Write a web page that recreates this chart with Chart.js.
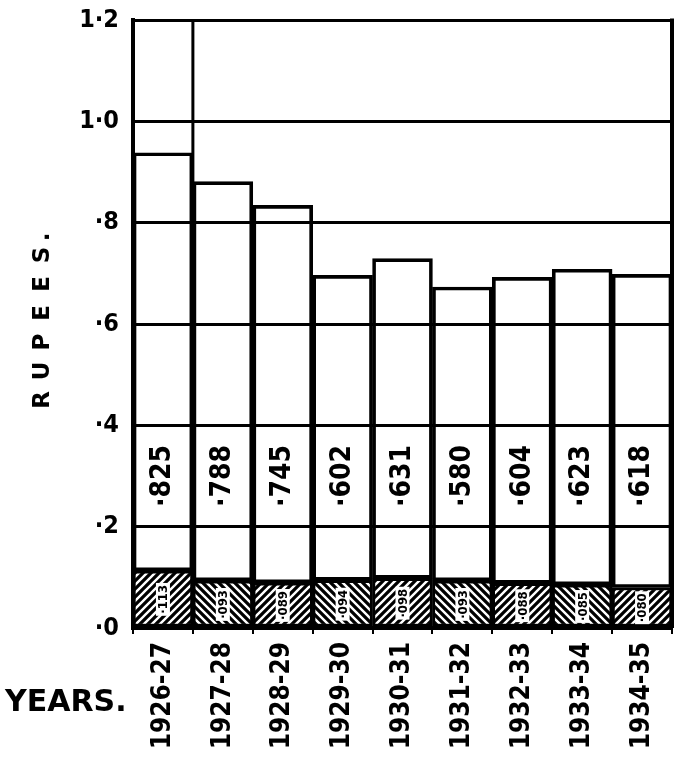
<!DOCTYPE html>
<html>
<head>
<meta charset="UTF-8" />
<style>
  html, body { margin: 0; padding: 0; background: #fff; }
  #wrap { width: 686px; height: 757px; }
</style>
</head>
<body>
<div id="wrap"><canvas id="c" width="686" height="757"></canvas></div>
<script src="https://cdn.jsdelivr.net/npm/chart.js"></script>
<script>
  // data
  const years = ['1926-27', '1927-28', '1928-29', '1929-30', '1930-31', '1931-32', '1932-33', '1933-34', '1934-35'];
  const lowerValues = [0.113, 0.093, 0.089, 0.094, 0.098, 0.093, 0.088, 0.085, 0.080];
  const upperValues = [0.825, 0.788, 0.745, 0.602, 0.631, 0.580, 0.604, 0.623, 0.618];
  const lowerLabels = ['·113', '·093', '·089', '·094', '·098', '·093', '·088', '·085', '·080'];
  const upperLabels = ['·825', '·788', '·745', '·602', '·631', '·580', '·604', '·623', '·618'];
  const yTickLabels = ['·0', '·2', '·4', '·6', '·8', '1·0', '1·2'];

  const FONT = '"DejaVu Sans Condensed", "DejaVu Sans", sans-serif';
  const WIDE = '"DejaVu Sans", sans-serif';

  // hatch tile: black with white diagonal strokes
  function makeHatch(flip) {
    const t = document.createElement('canvas');
    t.width = 8; t.height = 8;
    const g = t.getContext('2d');
    g.fillStyle = '#000';
    g.fillRect(0, 0, 8, 8);
    g.strokeStyle = '#fff';
    g.lineWidth = 2.4;
    g.beginPath();
    if (!flip) {
      g.moveTo(0, 8); g.lineTo(8, 0);
      g.moveTo(-2, 2); g.lineTo(2, -2);
      g.moveTo(6, 10); g.lineTo(10, 6);
    } else {
      g.moveTo(0, 0); g.lineTo(8, 8);
      g.moveTo(-2, 6); g.lineTo(2, 10);
      g.moveTo(6, -2); g.lineTo(10, 2);
    }
    g.stroke();
    return g.createPattern(t, 'repeat');
  }
  const hatchA = makeHatch(false);
  const hatchB = makeHatch(true);

  const extras = {
    id: 'extras',
    afterDatasetsDraw(chart) {
      const ctx = chart.ctx;
      const x = chart.scales.x, y = chart.scales.y;
      const area = chart.chartArea;
      ctx.save();
      ctx.strokeStyle = '#000';
      // right frame
      ctx.lineWidth = 4;
      ctx.beginPath();
      ctx.moveTo(area.right, area.top - 1.5);
      ctx.lineTo(area.right, area.bottom);
      ctx.stroke();
      // divider after first column runs up to the top
      const xd = (x.getPixelForValue(0) + x.getPixelForValue(1)) / 2;
      ctx.lineWidth = 3;
      ctx.beginPath();
      ctx.moveTo(xd, area.top);
      ctx.lineTo(xd, area.bottom);
      ctx.stroke();

      // upper values, rotated, between .2 and .4
      const yMid = y.getPixelForValue(0.3);
      ctx.fillStyle = '#000';
      ctx.textAlign = 'center';
      ctx.textBaseline = 'middle';
      years.forEach((yr, i) => {
        const cx = x.getPixelForValue(i);
        ctx.save();
        ctx.translate(cx, yMid);
        ctx.rotate(-Math.PI / 2);
        ctx.font = 'bold 28px ' + FONT;
        ctx.fillText(upperLabels[i], 0, 0);
        ctx.restore();

        // lower values inside the hatch
        const yl = y.getPixelForValue(lowerValues[i] / 2);
        ctx.save();
        ctx.translate(cx, yl);
        ctx.rotate(-Math.PI / 2);
        ctx.font = 'bold 13px ' + FONT;
        const w = ctx.measureText(lowerLabels[i]).width;
        ctx.fillStyle = '#fff';
        ctx.fillRect(-w / 2 - 2, -7, w + 4, 14);
        ctx.fillStyle = '#000';
        ctx.fillText(lowerLabels[i], 0, 1);
        ctx.restore();
      });

      // axis words
      ctx.font = 'bold 23px ' + WIDE;
      const word = 'RUPEES.';
      let yy = 400;
      for (const ch of word) {
        ctx.save();
        ctx.translate(43, yy);
        ctx.rotate(-Math.PI / 2);
        ctx.fillText(ch, 0, 0);
        ctx.restore();
        yy -= ch === 'S' ? 18 : 29;
      }
      ctx.font = 'bold 30px ' + WIDE;
      ctx.textAlign = 'left';
      ctx.fillText('YEARS.', 5, 703);
      ctx.restore();
    }
  };

  new Chart(document.getElementById('c'), {
    type: 'bar',
    data: {
      labels: years,
      datasets: [
        {
          label: 'lower',
          data: lowerValues,
          backgroundColor: years.map((_, i) => i % 2 === 0 ? hatchA : hatchB),
          borderColor: '#000',
          borderWidth: 3,
          borderSkipped: false
        },
        {
          label: 'upper',
          data: upperValues,
          backgroundColor: 'rgba(255,255,255,0)',
          borderColor: '#000',
          borderWidth: 3,
          borderSkipped: false
        }
      ]
    },
    options: {
      responsive: false,
      animation: false,
      devicePixelRatio: 1,
      layout: { padding: { top: 20, right: 14, left: 0, bottom: 0 } },
      datasets: { bar: { categoryPercentage: 1, barPercentage: 1 } },
      plugins: { legend: { display: false }, tooltip: { enabled: false } },
      scales: {
        x: {
          stacked: true,
          afterFit(s) { s.height = 129; s.paddingLeft = 0; s.paddingRight = 0; },
          border: { color: '#000', width: 4 },
          grid: { display: true, drawOnChartArea: false, color: '#000', lineWidth: 2, tickLength: 6, offset: true },
          ticks: {
            autoSkip: false, minRotation: 90, maxRotation: 90, padding: 8,
            color: '#000', font: { family: FONT, size: 26, weight: 'bold' }
          }
        },
        y: {
          stacked: true,
          min: 0, max: 1.2,
          afterFit(s) { s.width = 133; s.paddingTop = 0; s.paddingBottom = 0; },
          border: { color: '#000', width: 4 },
          grid: { color: '#000', lineWidth: 3, drawTicks: false },
          ticks: {
            stepSize: 0.2, padding: 14, color: '#000',
            font: { family: FONT, size: 25, weight: 'bold' },
            callback: (v) => yTickLabels[Math.round(v / 0.2)]
          }
        }
      }
    },
    plugins: [extras]
  });
</script>
</body>
</html>
